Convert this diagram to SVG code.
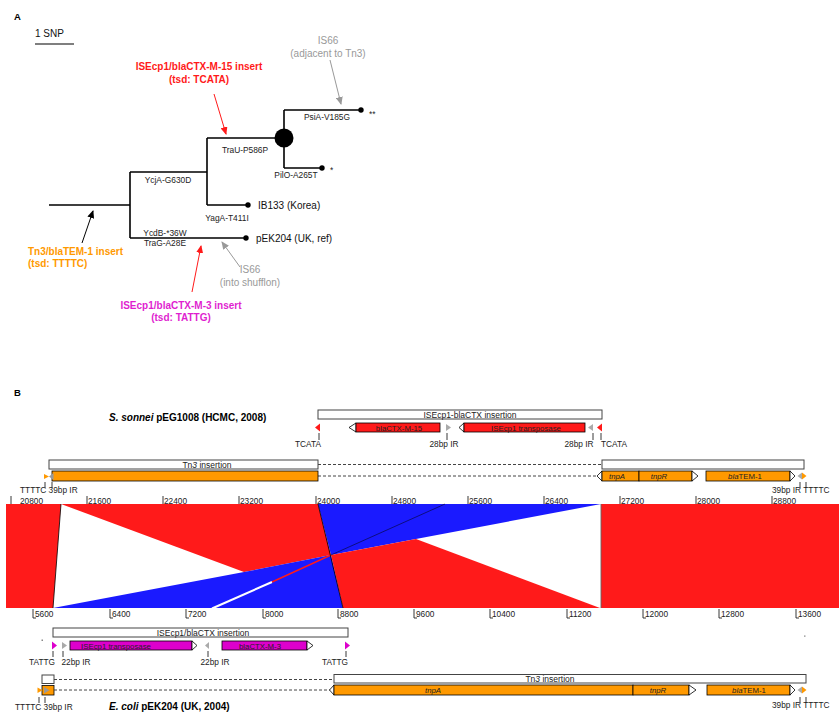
<svg xmlns="http://www.w3.org/2000/svg" width="839" height="713" viewBox="0 0 839 713">
<style>
text{font-family:"Liberation Sans",Arial,sans-serif;}
.br{stroke:#000;stroke-width:1.6;fill:none;}
.lab{font-size:8.4px;fill:#222;}
.tip{font-size:10px;fill:#111;}
.small{font-size:8.3px;fill:#222;}
.gl{font-size:7.8px;fill:#222;}
.box{fill:#fff;stroke:#444;stroke-width:1;}
.gr{fill:#fff;stroke:#000;stroke-width:0.8;}
.red{fill:#ff1a1a;stroke:#000;stroke-width:0.8;}
.mag{fill:#dd00cc;stroke:#000;stroke-width:0.8;}
.org{fill:#ff9900;stroke:#000;stroke-width:0.8;}
.tk{stroke:#222;stroke-width:0.9;}
.dash{stroke:#444;stroke-width:1;stroke-dasharray:3,2;}
.it{font-style:italic;}
</style>
<defs>
<marker id="hk" markerUnits="userSpaceOnUse" markerWidth="8" markerHeight="7" refX="7" refY="3.5" orient="auto"><path d="M0,0 L8,3.5 L0,7 z" fill="#000"/></marker>
<marker id="hr" markerUnits="userSpaceOnUse" markerWidth="8" markerHeight="7" refX="7" refY="3.5" orient="auto"><path d="M0,0 L8,3.5 L0,7 z" fill="#ff1a1a"/></marker>
<marker id="hg" markerUnits="userSpaceOnUse" markerWidth="8" markerHeight="7" refX="7" refY="3.5" orient="auto"><path d="M0,0 L8,3.5 L0,7 z" fill="#999"/></marker>
</defs>
<rect width="839" height="713" fill="#fff"/>

<!-- Panel A -->
<g id="panelA-label"><text x="14" y="20" font-size="9.5" font-weight="bold">A</text></g>
<g id="scale">
<text x="35" y="37" class="tip">1 SNP</text>
<line x1="35" y1="44" x2="74" y2="44" stroke="#000" stroke-width="1.2"/>
</g>
<g id="tree-connectors">
<path class="br" d="M49,205 H130 M130,172 V238 M130,172 H207 M207,138 V205 M207,205 H248 M130,238 H246 M207,138 H284 M284,110 V168 M284,110 H361 M284,168 H322"/>
</g>
<g id="tree-nodes">
<circle cx="284" cy="138" r="9.5" fill="#000"/>
<circle cx="361" cy="110" r="2.7" fill="#000"/>
<circle cx="322" cy="168" r="2.7" fill="#000"/>
<circle cx="248" cy="205" r="2.7" fill="#000"/>
<circle cx="246" cy="238" r="2.7" fill="#000"/>
</g>
<g id="tree-labels">
<text x="369" y="117" class="lab">**</text>
<text x="330" y="173" class="lab">*</text>
<text x="327" y="120" class="lab" text-anchor="middle">PsiA-V185G</text>
<text x="245" y="153" class="lab" text-anchor="middle">TraU-P586P</text>
<text x="296" y="178" class="lab" text-anchor="middle">PilO-A265T</text>
<text x="168" y="183" class="lab" text-anchor="middle">YcjA-G630D</text>
<text x="227" y="221" class="lab" text-anchor="middle">YagA-T411I</text>
<text x="165" y="235.5" class="lab" text-anchor="middle">YcdB-*36W</text>
<text x="165" y="245.5" class="lab" text-anchor="middle">TraG-A28E</text>
<text x="258" y="209" class="tip">IB133 (Korea)</text>
<text x="256" y="242" class="tip">pEK204 (UK, ref)</text>
</g>
<g id="annotations">
<text x="199" y="70" font-size="10" font-weight="bold" fill="#ff1a1a" text-anchor="middle">ISEcp1/blaCTX-M-15 insert</text>
<text x="199" y="83" font-size="10" font-weight="bold" fill="#ff1a1a" text-anchor="middle">(tsd: TCATA)</text>
<text x="328" y="44" font-size="10" fill="#999" text-anchor="middle">IS66</text>
<text x="328" y="56.5" font-size="10" fill="#999" text-anchor="middle">(adjacent to Tn3)</text>
<text x="28" y="254.5" font-size="10" font-weight="bold" fill="#ff9900">Tn3/blaTEM-1 insert</text>
<text x="28" y="267" font-size="10" font-weight="bold" fill="#ff9900">(tsd: TTTTC)</text>
<text x="181" y="309" font-size="10" font-weight="bold" fill="#e01fd0" text-anchor="middle">ISEcp1/blaCTX-M-3 insert</text>
<text x="181" y="321" font-size="10" font-weight="bold" fill="#e01fd0" text-anchor="middle">(tsd: TATTG)</text>
<text x="250" y="273" font-size="10" fill="#999" text-anchor="middle">IS66</text>
<text x="250" y="286" font-size="10" fill="#999" text-anchor="middle">(into shufflon)</text>
</g>
<g id="annotation-arrows">
<line x1="214" y1="94" x2="226" y2="134" stroke="#ff1a1a" stroke-width="1" marker-end="url(#hr)"/>
<line x1="330" y1="60" x2="341" y2="104" stroke="#999" stroke-width="1" marker-end="url(#hg)"/>
<line x1="82" y1="243" x2="93" y2="211" stroke="#000" stroke-width="1" marker-end="url(#hk)"/>
<line x1="192" y1="292" x2="201" y2="246" stroke="#ff1a1a" stroke-width="1" marker-end="url(#hr)"/>
<line x1="240" y1="267" x2="222" y2="242" stroke="#999" stroke-width="1" marker-end="url(#hg)"/>
</g>

<!-- Panel B -->
<g id="panelB-label"><text x="14" y="396" font-size="9.5" font-weight="bold">B</text></g>
<g id="title-top"><text x="109" y="420.5" font-size="10" font-weight="bold"><tspan class="it">S. sonnei</tspan> pEG1008 (HCMC, 2008)</text></g>

<g id="top-ISEcp1">
<rect x="318" y="410" width="284" height="9" class="box"/>
<text x="470" y="417.5" font-size="8.5" fill="#222" text-anchor="middle">ISEcp1-blaCTX insertion</text>
<polygon points="320,423.5 315,427.5 320,431.5" fill="#ff1a1a"/>
<line x1="319" y1="433" x2="319" y2="440" class="tk"/>
<text x="308" y="447" class="small" text-anchor="middle">TCATA</text>
<polygon points="356,423 349,427.5 356,432" class="gr"/>
<rect x="356" y="423" width="84" height="9" class="red"/>
<text x="399" y="430.5" class="gl" text-anchor="middle">blaCTX-M-15</text>
<polygon points="446,424 451,427.5 446,431" fill="#aaa"/>
<line x1="447" y1="433" x2="447" y2="440" class="tk"/>
<text x="444" y="447" class="small" text-anchor="middle">28bp IR</text>
<polygon points="464,423 459,427.5 464,432" class="gr"/>
<rect x="464" y="423" width="121" height="9" class="red"/>
<text x="526" y="430.5" class="gl" text-anchor="middle">ISEcp1 transposase</text>
<polygon points="593,424 588,427.5 593,431" fill="#aaa"/>
<line x1="593" y1="433" x2="593" y2="440" class="tk"/>
<text x="579" y="447" class="small" text-anchor="middle">28bp IR</text>
<polygon points="602,423.5 597,427.5 602,431.5" fill="#ff1a1a"/>
<line x1="601" y1="433" x2="601" y2="440" class="tk"/>
<text x="614" y="447" class="small" text-anchor="middle">TCATA</text>
</g>

<g id="top-Tn3">
<rect x="49" y="460" width="269" height="9" class="box"/>
<text x="207" y="467.5" font-size="8.5" fill="#222" text-anchor="middle">Tn<tspan class="it">3</tspan> insertion</text>
<rect x="602" y="460" width="202" height="9" class="box"/>
<line x1="318" y1="464.5" x2="601" y2="464.5" class="dash"/>
<line x1="318" y1="476" x2="597" y2="476" class="dash"/>
<rect x="52" y="471" width="266" height="10" class="org"/>
<polygon points="44,474 49,476.5 44,479" fill="#ff9900"/>
<polygon points="53.5,473 49,476.5 53.5,480" fill="#999"/>
<line x1="45" y1="482" x2="45" y2="488" class="tk"/>
<line x1="52" y1="482" x2="52" y2="488" class="tk"/>
<text x="20" y="493" class="small">TTTTC 39bp IR</text>
<polygon points="602,471 597,476 602,481" class="gr"/>
<rect x="602" y="471" width="37" height="10" class="org"/>
<text x="617" y="479" class="gl it" text-anchor="middle">tnpA</text>
<rect x="639" y="471" width="53" height="10" class="org"/>
<text x="659" y="479" class="gl it" text-anchor="middle">tnpR</text>
<polygon points="692,471 698,476 692,481" class="gr"/>
<rect x="706" y="471" width="84" height="10" class="org"/>
<text x="745" y="479" class="gl" text-anchor="middle"><tspan class="it">bla</tspan>TEM-1</text>
<polygon points="790,471 795,476 790,481" class="gr"/>
<polygon points="802,472.5 797.5,476 802,479.5" fill="#aaa"/>
<polygon points="802,472.5 806.5,476 802,479.5" fill="#ff9900"/>
<line x1="800" y1="482" x2="800" y2="488" class="tk"/>
<line x1="806" y1="482" x2="806" y2="488" class="tk"/>
<text x="772" y="492.5" class="small">39bp IR TTTTC</text>
</g>

<g id="top-ruler">
<path class="tk" d="M11,496 V505 M87,496 V505 M163,496 V505 M239,496 V505 M316,496 V505 M392,496 V505 M468,496 V505 M544,496 V505 M620,496 V505 M696,496 V505 M772,496 V505"/>
<g class="small">
<text x="20" y="503.5">20800</text>
<text x="88" y="503.5">21600</text>
<text x="164" y="503.5">22400</text>
<text x="240" y="503.5">23200</text>
<text x="317" y="503.5">24000</text>
<text x="393" y="503.5">24800</text>
<text x="469" y="503.5">25600</text>
<text x="545" y="503.5">26400</text>
<text x="621" y="503.5">27200</text>
<text x="697" y="503.5">28000</text>
<text x="773" y="503.5">28800</text>
</g>
</g>

<g id="comparison">
<polygon points="6,504 61,504 53,608 6,608" fill="#ff1a1a"/>
<polygon points="61,504 318,504 331,555 244,572" fill="#ff1a1a"/>
<polygon points="53,608 244,572 331,555 343,608" fill="#1a1aff"/>
<polygon points="318,504 601,504 331,555" fill="#1a1aff"/>
<polygon points="331,555 416,539 600,608 343,608" fill="#ff1a1a"/>
<polygon points="601,504 839,504 839,608 601,608" fill="#ff1a1a"/>
<line x1="212" y1="608.5" x2="272" y2="582" stroke="#fff" stroke-width="2"/>
<line x1="272" y1="582" x2="331" y2="555" stroke="#ff1a1a" stroke-width="1.5"/>
<line x1="331" y1="555" x2="445" y2="504" stroke="#000" stroke-width="0.5"/>
<line x1="61" y1="504" x2="53" y2="608" stroke="#000" stroke-width="0.8"/>
<line x1="318" y1="504" x2="343" y2="608" stroke="#000" stroke-width="0.8"/>
<line x1="601" y1="504" x2="601" y2="608" stroke="#666" stroke-width="0.9"/>
</g>

<g id="bottom-ruler">
<path class="tk" fill="none" d="M33,609 V618 H36 M110,609 V618 H113 M186,609 V618 H189 M263,609 V618 H266 M338,609 V618 H341 M414,609 V618 H417 M490,609 V618 H493 M567,609 V618 H570 M643,609 V618 H646 M719,609 V618 H722 M796,609 V618 H799"/>
<g class="small">
<text x="35" y="616.5">5600</text>
<text x="112" y="616.5">6400</text>
<text x="188" y="616.5">7200</text>
<text x="265" y="616.5">8000</text>
<text x="340" y="616.5">8800</text>
<text x="416" y="616.5">9600</text>
<text x="492" y="616.5">10400</text>
<text x="569" y="616.5">11200</text>
<text x="645" y="616.5">12000</text>
<text x="721" y="616.5">12800</text>
<text x="798" y="616.5">13600</text>
</g>
</g>

<g id="bottom-ISEcp1">
<rect x="53" y="628" width="295" height="9" class="box"/>
<text x="203" y="635.5" font-size="8.5" fill="#222" text-anchor="middle">ISEcp1/blaCTX insertion</text>
<rect x="41.5" y="639.5" width="1.5" height="1.5" fill="#888"/>
<rect x="804" y="635.5" width="1.5" height="1.2" fill="#888"/>
<polygon points="52,641.5 57,645.5 52,649.5" fill="#dd00cc"/>
<line x1="53" y1="651" x2="53" y2="657" class="tk"/>
<text x="42" y="665" class="small" text-anchor="middle">TATTG</text>
<polygon points="62,642 67,645.5 62,649" fill="#aaa"/>
<line x1="63" y1="651" x2="63" y2="657" class="tk"/>
<text x="76" y="665" class="small" text-anchor="middle">22bp IR</text>
<rect x="70" y="641" width="122" height="9" class="mag"/>
<text x="116" y="648.5" class="gl" text-anchor="middle">ISEcp1 transposase</text>
<polygon points="192,641 197,645.5 192,650" class="gr"/>
<polygon points="209,642 205,645.5 209,649" fill="#aaa"/>
<line x1="208" y1="651" x2="208" y2="657" class="tk"/>
<text x="215" y="665" class="small" text-anchor="middle">22bp IR</text>
<rect x="222" y="641" width="85" height="9" class="mag"/>
<text x="260" y="648.5" class="gl" text-anchor="middle">blaCTX-M-3</text>
<polygon points="307,641 313,645.5 307,650" class="gr"/>
<polygon points="345,641.5 350,645.5 345,649.5" fill="#dd00cc"/>
<line x1="346" y1="651" x2="346" y2="657" class="tk"/>
<text x="335" y="665" class="small" text-anchor="middle">TATTG</text>
</g>

<g id="bottom-Tn3">
<rect x="42" y="675" width="12" height="8.5" class="box"/>
<rect x="42" y="685.5" width="12" height="9.5" class="org"/>
<polygon points="37.5,687.5 42.5,690.3 37.5,693" fill="#ff9900"/>
<polygon points="44,687 49.5,690.3 44,693.5" fill="#999"/>
<line x1="39" y1="697" x2="39" y2="703" class="tk"/>
<line x1="45" y1="697" x2="45" y2="703" class="tk"/>
<text x="15" y="709.5" class="small">TTTTC 39bp IR</text>
<line x1="54" y1="679.5" x2="334" y2="679.5" class="dash"/>
<line x1="54" y1="690" x2="330" y2="690" class="dash"/>
<rect x="334" y="674.5" width="472" height="8.5" class="box"/>
<text x="550" y="681.5" font-size="8.5" fill="#222" text-anchor="middle">Tn<tspan class="it">3</tspan> insertion</text>
<polygon points="334,685 329.5,690 334,695" class="gr"/>
<rect x="334" y="685" width="299" height="10" class="org"/>
<text x="433" y="692.8" class="gl it" text-anchor="middle">tnpA</text>
<rect x="633" y="685" width="56" height="10" class="org"/>
<text x="658" y="692.8" class="gl it" text-anchor="middle">tnpR</text>
<polygon points="689,685 696,690 689,695" class="gr"/>
<rect x="707" y="685" width="83" height="10" class="org"/>
<text x="749" y="692.8" class="gl" text-anchor="middle"><tspan class="it">bla</tspan>TEM-1</text>
<polygon points="790,685 795,690 790,695" class="gr"/>
<polygon points="802,686.5 797.5,690 802,693.5" fill="#aaa"/>
<polygon points="802,686.5 806.5,690 802,693.5" fill="#ff9900"/>
<line x1="800" y1="697" x2="800" y2="703" class="tk"/>
<line x1="806" y1="697" x2="806" y2="703" class="tk"/>
<text x="772" y="708" class="small">39bp IR TTTTC</text>
</g>
<g id="title-bottom"><text x="109" y="710" font-size="10" font-weight="bold"><tspan class="it">E. coli</tspan> pEK204 (UK, 2004)</text></g>
</svg>
